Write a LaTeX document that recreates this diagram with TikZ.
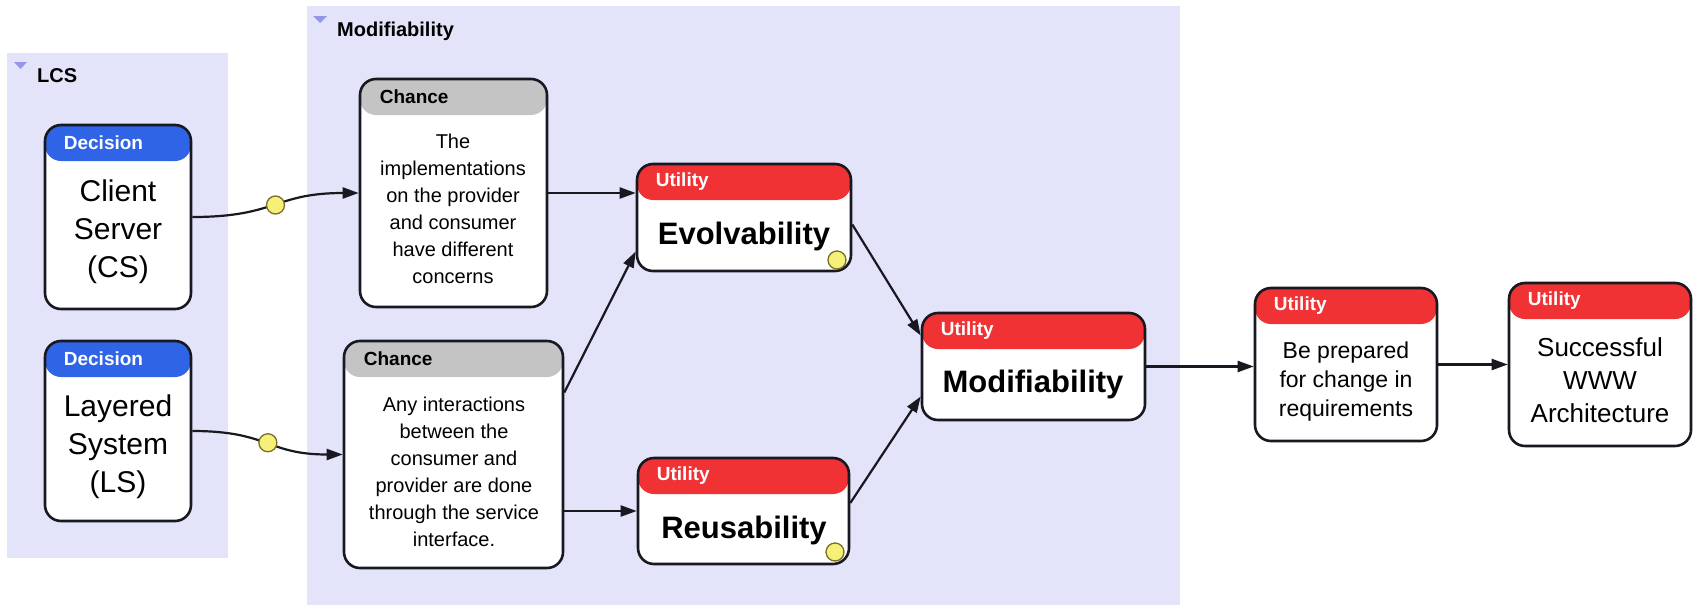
\documentclass[tikz,border=0pt]{standalone}
\usepackage{fontspec}
\setmainfont{Liberation Sans}
\usetikzlibrary{arrows.meta,calc}

\definecolor{panel}{RGB}{227,227,250}
\definecolor{panelmark}{RGB}{150,150,232}
\definecolor{decblue}{RGB}{48,100,230}
\definecolor{utilred}{RGB}{240,50,52}
\definecolor{chgrey}{RGB}{196,196,196}
\definecolor{edge}{RGB}{24,24,32}
\definecolor{dotfill}{RGB}{246,240,120}
\definecolor{dotline}{RGB}{120,110,40}

\tikzset{
  panelbox/.style={fill=panel, draw=none, inner sep=0pt},
  paneltitle/.style={anchor=west, inner sep=0pt, font=\bfseries\fontsize{20}{24}\selectfont},
  box/.style={draw=edge, line width=2.6pt, rounded corners=16pt, fill=white, inner sep=0pt},
  hdr/.style={path picture={\fill[#1] (path picture bounding box.north west)
      rectangle ([yshift=-36pt]path picture bounding box.north east);}},
  hdrtxt/.style={anchor=west, inner sep=0pt, font=\bfseries\fontsize{19}{23}\selectfont},
  bigtxt/.style={align=center, inner sep=0pt, font=\fontsize{30}{38}\selectfont},
  smalltxt/.style={align=center, inner sep=0pt, font=\fontsize{20}{27}\selectfont},
  utiltxt/.style={align=center, inner sep=0pt, font=\bfseries\fontsize{31}{36}\selectfont},
  conn/.style={draw=edge, line width=2.2pt, -{Triangle[length=16pt,width=11pt]}},
  dot/.style={circle, fill=dotfill, draw=dotline, line width=1.3pt, minimum size=18pt, inner sep=0pt},
}

\begin{document}
\begin{tikzpicture}[x=1pt, y=-1pt]
\useasboundingbox (0,0) rectangle (1694,605);
\fill[white] (0,0) rectangle (1694,605);

% group panels
\node[panelbox, minimum width=221pt, minimum height=505pt] (lcs) at (117.5,305.5) {};
\node[panelbox, minimum width=873pt, minimum height=599pt] (modp) at (743.5,305.5) {};
\fill[panelmark] (14,62) -- (27,62) -- (20.5,69) -- cycle;
\fill[panelmark] (313,16) -- (327,16) -- (320,23) -- cycle;
\node[paneltitle] (lcs-title) at (37,76) {LCS};
\node[paneltitle] (modp-title) at (337,31) {Modifiability};

% decision nodes
\node[box, hdr=decblue, minimum width=146pt, minimum height=184pt] (cs) at (118,217) {};
\node[hdrtxt, text=white] (cs-h) at ([xshift=20pt,yshift=-19pt]cs.north west) {Decision};
\node[bigtxt] (cs-t) at (118,232) {Client\\Server\\(CS)};

\node[box, hdr=decblue, minimum width=146pt, minimum height=180pt] (ls) at (118,431) {};
\node[hdrtxt, text=white] (ls-h) at ([xshift=20pt,yshift=-19pt]ls.north west) {Decision};
\node[bigtxt] (ls-t) at (118,447) {Layered\\System\\(LS)};

% chance nodes
\node[box, hdr=chgrey, minimum width=187pt, minimum height=228pt] (ch1) at (453.5,193) {};
\node[hdrtxt, text=black] (ch1-h) at ([xshift=21pt,yshift=-19pt]ch1.north west) {Chance};
\node[smalltxt] (ch1-t) at (453,209) {The\\implementations\\on the provider\\and consumer\\have different\\concerns};

\node[box, hdr=chgrey, minimum width=219pt, minimum height=227pt] (ch2) at (453.5,454.5) {};
\node[hdrtxt, text=black] (ch2-h) at ([xshift=21pt,yshift=-19pt]ch2.north west) {Chance};
\node[smalltxt] (ch2-t) at (454,472) {Any interactions\\between the\\consumer and\\provider are done\\through the service\\interface.};

% utility nodes
\node[box, hdr=utilred, minimum width=214pt, minimum height=107pt] (ev) at (744,217.5) {};
\node[hdrtxt, text=white] (ev-h) at ([xshift=20pt,yshift=-19pt]ev.north west) {Utility};
\node[utiltxt] (ev-t) at (744,236) {Evolvability};
\node[dot] (ev-dot) at (837,260) {};

\node[box, hdr=utilred, minimum width=211pt, minimum height=106pt] (re) at (743.5,511) {};
\node[hdrtxt, text=white] (re-h) at ([xshift=20pt,yshift=-19pt]re.north west) {Utility};
\node[utiltxt] (re-t) at (744,530) {Reusability};
\node[dot] (re-dot) at (835,552) {};

\node[box, hdr=utilred, minimum width=223pt, minimum height=107pt] (md) at (1033.5,366.5) {};
\node[hdrtxt, text=white] (md-h) at ([xshift=20pt,yshift=-19pt]md.north west) {Utility};
\node[utiltxt] (md-t) at (1033,384) {Modifiability};

\node[box, hdr=utilred, minimum width=182pt, minimum height=153pt] (bp) at (1346,364.5) {};
\node[hdrtxt, text=white] (bp-h) at ([xshift=20pt,yshift=-19pt]bp.north west) {Utility};
\node[align=center, inner sep=0pt, font=\fontsize{23}{29}\selectfont] (bp-t) at (1346,382) {Be prepared\\for change in\\requirements};

\node[box, hdr=utilred, minimum width=182pt, minimum height=163pt] (ss) at (1600,364.5) {};
\node[hdrtxt, text=white] (ss-h) at ([xshift=20pt,yshift=-19pt]ss.north west) {Utility};
\node[align=center, inner sep=0pt, font=\fontsize{26}{33}\selectfont] (ss-t) at (1600,380) {Successful\\WWW\\Architecture};

% connectors
\draw[conn] (cs.east) .. controls +(85,0) and +(-85,0) .. (ch1.west) node[dot, pos=0.5] (cs-dot) {};
\draw[conn] (ls.east) .. controls +(77,0) and +(-76,0) .. (ch2.west) node[dot, pos=0.5] (ls-dot) {};
\draw[conn] (ch1.east) -- (ch1.east -| ev.west);
\draw[conn] ([yshift=62pt]ch2.east) -- ([yshift=-34pt]ev.west);
\draw[conn] (ch2.east |- re.west) -- (re.west);
\draw[conn] ([yshift=-7pt]ev.east) -- ([yshift=31pt]md.west);
\draw[conn] ([yshift=8pt]re.east) -- ([yshift=-30pt]md.west);
\draw[conn] (md.east) -- (md.east -| bp.west);
\draw[conn] (bp.east) -- (bp.east -| ss.west);
\end{tikzpicture}
\end{document}
